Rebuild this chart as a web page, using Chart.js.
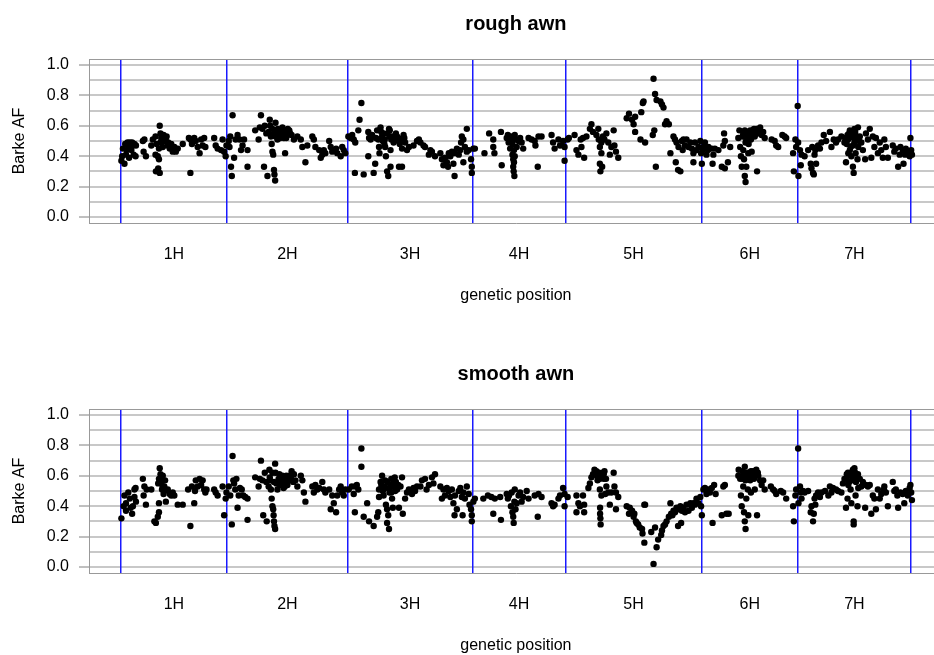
<!DOCTYPE html>
<html>
<head>
<meta charset="utf-8">
<script src="https://cdn.jsdelivr.net/npm/chart.js@4/dist/chart.umd.min.js"></script>
<style>
  html, body { margin: 0; padding: 0; background: #fff; overflow: hidden; width: 934px; height: 655px; }
  .panel { position: absolute; left: 0; width: 934px; height: 310px; overflow: hidden; }
  .panel canvas { display: block; }
</style>
</head>
<body>
<div class="panel" style="top:0px"><canvas id="rough-chart" width="946" height="310"></canvas></div>
<div class="panel" style="top:350px"><canvas id="smooth-chart" width="946" height="310"></canvas></div>
<script>
// chromosomes and their borders on the genetic map (cumulative cM)
const chromNames = ['1H', '2H', '3H', '4H', '5H', '6H', '7H'];
const chromBounds = [0, 139, 296, 459, 580, 758, 883, 1031];

// y axis: grey line every 0.1, label every 0.2
const yGrid = [0, 0.1, 0.2, 0.3, 0.4, 0.5, 0.6, 0.7, 0.8, 0.9, 1.0];
const yLabels = [0, 0.2, 0.4, 0.6, 0.8, 1.0];

// rough awn: marker position (cM) and Barke allele frequency
const roughPos = [
  1, 5, 7, 8, 10, 11, 12, 14, 15, 17, 18, 19.5, 20,
  29, 30, 31, 33, 40, 42, 45.5,
  45.5, 46, 47, 48.5, 49, 50, 51, 51, 52, 54, 55, 56, 58, 59, 61.5, 64, 66, 68, 70, 72, 74.5,
  81, 89, 91, 91, 93, 96, 98, 100.5, 103, 105, 107, 109, 110.5,
  122, 124, 126.5, 131, 133, 135, 137,
  138, 141, 142, 143, 144, 145, 146, 148, 150, 152.5, 155, 157, 159, 161, 165.5, 165.5,
  175.5, 180, 181.5, 183, 185, 187, 191.5, 193, 194.5, 196, 197, 198, 199, 200, 200.6, 201.5, 202, 203, 204.5, 207, 209, 211, 213, 214.5, 215, 217.5, 220, 223, 226, 230.5,
  235, 237, 241, 243.5, 250, 252, 254, 259, 261, 263, 265, 267, 272, 274, 276, 281, 282.5, 287, 289, 291, 293,
  297, 300, 302, 304, 305.5, 306, 310, 311.6, 314, 317, 323, 323, 324, 330, 332, 334.5, 336, 337, 337.6, 339,
  341, 343, 344.5, 345, 346, 347.5, 349, 350, 350.6, 352, 352, 353, 354, 356, 358, 360.5, 363, 365, 367, 367,
  369, 371, 373.5, 376, 382, 386.5, 389, 391, 395, 397, 402, 404, 406, 410, 417, 419, 421, 423, 425.5, 427,
  428, 430, 432, 434, 435.5, 436, 438.5, 441, 443, 444, 445, 447, 447, 449, 451.5, 451.5, 454,
  457, 458, 458, 460, 462, 474.5, 480.6, 486, 486, 487.5, 496, 497, 503.5, 506, 508, 510, 511, 512, 512, 512.6,
  513.5, 514, 515, 516.5, 519, 521, 523, 525, 532, 536, 540, 541, 544, 545, 549, 562, 564, 566, 571, 573, 577, 579, 579,
  583, 584.6, 592, 594.5, 597, 600, 601, 603, 604.5, 607.5, 612, 614, 616, 620.5, 623, 623.6, 625, 625, 625.7, 627,
  627, 628, 629, 631, 633.5, 636, 638, 640, 643, 644, 646, 649, 660, 663, 667, 669, 671, 671, 678, 679,
  681, 682, 684, 694, 695, 696, 697, 698, 699, 704, 706, 708, 710, 712, 715, 717, 721, 723, 724, 725,
  727, 727.6, 730, 732, 733, 734, 736, 738, 740.6, 743, 745, 747, 747, 749, 751, 753.6, 756, 757,
  758, 759, 760, 762, 764, 766, 766.6, 771, 772, 773, 775, 779.6, 784, 786, 787, 788, 788, 792, 795,
  805.6, 807, 808, 809, 810, 811, 812, 813, 814, 814, 815, 816, 816, 818, 818.6, 821, 822, 823, 825, 826,
  827, 829, 830, 831.6, 834, 836, 838, 840, 849, 853, 855, 857.6, 863, 866, 868,
  877, 878, 880, 881, 883, 883.6, 884, 886, 887, 888, 892, 896.6, 900, 901, 902, 903, 904, 905, 906, 907,
  909.6, 912, 914, 917, 920, 925, 927, 930, 933, 935.6, 940, 944, 946, 948, 948.6, 949, 951, 952, 953, 954,
  955, 956, 957, 957, 958.5, 959, 961, 961.6, 962, 964, 966, 968, 971, 972, 974.6, 977, 979, 981, 983, 985,
  987.6, 990, 992, 994, 996, 998, 1000.6, 1007, 1009, 1011, 1014, 1016, 1017, 1020, 1021, 1023, 1024, 1026.6, 1029, 1030, 1031, 1032,
  // markers hidden inside the densest clusters
  2, 3, 6, 9, 13, 16, 50, 52, 53, 57, 60, 62,
  188, 190, 195, 198, 200, 202, 205, 206, 208, 210, 212, 216, 218, 221,
  326, 328, 333, 340, 342, 344, 348, 351, 355, 357, 359, 362, 364, 368, 370,
  505, 507, 509, 511, 513, 514, 513,
  812, 815, 817, 819, 820, 824, 828, 832,
  945, 947, 950, 951, 953, 955, 956, 958, 960, 963
];
const roughAF = [
  .37, .35, .41, .44, .47, .39, .49, .44, .49, .41, .48, .40, .47,
  .50, .43, .51, .40, .47, .51, .41,
  .53, .30, .48, .40, .32, .38, .60, .29, .55, .51, .46, .54, .52, .50, .47, .45, .48, .43, .46, .43, .45,
  .48, .52, .51, .29, .48, .52, .50, .46, .42, .51, .47, .52, .46,
  .52, .47, .45, .44, .51, .43, .40,
  .47, .50, .46, .53, .33, .27, .67, .39, .51, .54, .51, .44, .47, .51, .44, .33,
  .57, .51, .59, .67, .58, .33, .27, .56, .64, .53, .48, .43, .41, .31, .28, .24, .62, .56, .51, .57, .55, .59, .52, .42, .56, .54, .57, .54, .51, .53,
  .51, .46, .36, .47, .53, .51, .46, .44, .39, .41, .44, .42, .50, .46, .43, .45, .42, .40, .46, .44, .42,
  .53, .52, .54, .51, .29, .49, .57, .64, .75, .28, .56, .40, .52, .29, .35, .57, .51, .46, .42, .59,
  .53, .55, .51, .46, .40, .30, .27, .58, .53, .44, .33, .51, .53, .49, .51, .53, .33, .50, .45, .33,
  .54, .49, .44, .46, .47, .50, .51, .49, .47, .46, .41, .44, .43, .40, .42, .38, .34, .39, .36, .33,
  .42, .40, .43, .35, .27, .42, .45, .41, .44, .49, .53, .51, .36, .46, .58, .43, .44,
  .38, .33, .29, .45, .45, .42, .55, .51, .46, .42, .56, .34, .52, .49, .45, .51, .41, .38, .33, .30,
  .27, .54, .51, .46, .50, .52, .49, .45, .52, .51, .50, .47, .33, .53, .53, .54, .49, .45, .51, .47, .50, .37, .46,
  .51, .52, .54, .44, .41, .51, .46, .52, .39, .53, .58, .61, .56, .54, .58, .51, .46, .35, .30, .49,
  .42, .33, .53, .51, .55, .49, .41, .46, .57, .47, .43, .39, .65, .68, .64, .61, .56, .66, .51, .69,
  .75, .76, .49, .54, .91, .57, .81, .33, .77, .76, .74, .72, .61, .63, .61, .42, .53, .51, .36, .49,
  .31, .46, .30, .50, .44, .51, .47, .51, .46, .49, .45, .42, .36, .49, .44, .46, .50, .42,
  .35, .44, .46, .49, .41, .44, .46, .45, .35, .41, .45, .44, .33, .47, .55, .50, .32, .36, .46,
  .52, .57, .46, .40, .33, .53, .44, .38, .57, .27, .23, .51, .33, .54, .42, .57, .51, .43, .55, .58,
  .53, .58, .30, .57, .59, .54, .56, .52, .51, .50, .47, .46, .54, .53, .52,
  .42, .30, .51, .46, .73, .49, .27, .44, .34, .41, .40, .44, .35, .32, .46, .29, .28, .41, .44, .35,
  .47, .45, .49, .54, .50, .56, .46, .51, .49, .51, .53, .49, .36, .54, .51, .42, .57, .46, .40, .53,
  .33, .29, .58, .49, .42, .51, .38, .59, .46, .53, .49, .44, .38, .55, .51, .58, .39, .53, .46, .52,
  .42, .49, .44, .39, .51, .46, .39, .47, .43, .45, .33, .41, .46, .44, .35, .41, .45, .42, .40, .52, .44, .41,
  // markers hidden inside the densest clusters
  .40, .45, .48, .49, .46, .47, .45, .49, .52, .50, .53, .49,
  .60, .55, .60, .58, .55, .53, .58, .54, .52, .56, .55, .52, .58, .55,
  .51, .54, .52, .56, .50, .48, .55, .57, .52, .50, .55, .52, .48, .51, .52,
  .54, .50, .53, .48, .44, .40, .36,
  .55, .49, .56, .48, .53, .57, .55, .55,
  .52, .48, .55, .44, .56, .47, .52, .56, .53, .50
];

// smooth awn: marker position (cM) and Barke allele frequency
const smoothPos = [
  1, 4, 5, 7, 7, 10, 12, 13, 15, 16, 18, 18, 19.5, 20,
  29, 30, 31, 33, 34, 40, 44, 46, 48.5, 50, 50, 50, 51, 52, 53, 54, 55, 56, 57, 58,
  59, 61.5, 64, 66, 68, 70, 74.5, 81, 88, 91, 93, 96, 97, 98, 100.5, 103, 105, 107, 109, 110.5,
  112, 122, 124, 126.5, 133, 135, 137, 138,
  141, 143, 145, 146, 147, 148, 149.5, 151, 152.5, 154, 155.6, 158, 160, 162.5, 165.5, 165.5,
  175.5, 180, 181.5, 183, 186, 190.5, 193, 194, 194.5, 196, 197, 198, 199, 199.5, 200, 200.6, 201.5, 201.5, 202, 203,
  204.5, 206, 208, 211, 212.5, 214, 215, 217.5, 220, 223, 226, 228, 230.5,
  235, 237, 239, 241, 250, 252, 254, 256.5, 259, 263, 265, 267, 272, 274, 276, 278, 281, 282.5, 285, 287,
  289, 291, 293,
  297.5, 301.5, 304, 305.5, 306, 308, 310, 314, 314, 317, 321.5, 324, 330, 334.5, 336, 337, 337, 339, 340.5, 341,
  343, 344.5, 345, 346, 347.5, 347.5, 349, 350, 350.6, 352, 353, 354, 355, 356, 357.5, 359, 360.5, 363, 365, 367,
  368, 371, 373.5, 376, 380, 382, 384, 386.5, 391, 393, 397, 399, 402, 406, 408, 410,
  417, 419, 421, 423, 425.5, 428, 430, 432, 434, 435.5, 436, 438.5, 441, 443, 445, 446, 447, 449, 451.5, 454,
  455, 457,
  458, 458, 460, 462, 473, 479, 483.5, 486, 488, 495, 496, 503.5, 505, 506.5, 509, 510, 511, 512, 512.6, 513.5,
  514, 515, 516.5, 519, 521, 523, 525, 529.6, 532, 540, 544, 545, 549, 562, 564, 566, 571, 573, 577, 579,
  579,
  583, 594.5, 594.5, 597, 599, 603, 604.5, 604.5, 610, 612, 614, 616, 618, 620.5, 623, 625, 625, 625.3, 625.3, 625.7,
  626, 627, 629, 630, 631, 632, 633.5, 636, 638, 640, 643, 644, 646, 649, 646, 660, 664, 663, 667, 669,
  670, 672, 673, 675, 677, 680, 680.6, 683, 683, 684, 692, 695, 697, 699, 701, 705, 706, 708, 710, 712,
  715, 717, 718, 719.6, 721, 723, 725, 727, 727.6, 730, 731, 732, 734, 736, 738, 740.6, 743, 745, 747, 749,
  751, 753.6, 756, 757, 758,
  760, 762, 764, 766.6, 768.5, 771, 772, 774, 776, 784, 786, 788, 790, 793, 805.6, 806, 808, 809, 810, 811,
  812, 813, 814, 814, 815, 816, 816, 818, 818.6, 819, 821, 822, 823, 825, 826, 827, 829, 830, 831.6, 834,
  836, 838, 840, 848, 851, 853, 855, 861, 864, 868,
  877, 878, 880, 881, 883.6, 884, 886, 887, 888, 890, 892, 896.6, 900, 901, 903, 904, 905, 906, 907, 909.6,
  912, 914, 918.6, 923, 925, 927, 929, 933, 935.6, 940, 946, 946, 948, 948.6, 949, 951, 952, 953, 954, 955,
  956, 956, 957, 957.6, 958.5, 959, 961, 961.6, 962, 964, 966, 968, 971, 972, 974.6, 977, 979, 981, 983, 985,
  987.6, 990, 992, 995.5, 996, 998, 1000.6, 1007, 1009, 1011, 1013, 1014, 1017, 1020, 1022, 1024, 1026.6, 1029, 1030, 1031, 1032,
  // markers hidden inside the densest clusters
  49, 51, 53, 55, 57,
  185, 188, 190, 195, 198, 200, 205, 207, 209, 213, 216, 219, 222, 225,
  340, 342, 345, 348, 351, 353, 356, 358, 362,
  621, 622, 624, 628, 630, 633,
  811, 813, 815, 817, 820, 822, 824, 828, 831,
  942, 944, 947, 950, 952, 955, 958, 960
];
const smoothAF = [
  .32, .40, .47, .37, .42, .49, .45, .39, .35, .40, .51, .46, .52, .43,
  .58, .47, .53, .41, .51, .51, .30, .29, .33, .36, .42, .58, .65, .61, .55, .51, .60, .48, .53, .57,
  .43, .51, .48, .47, .49, .47, .41, .41, .51, .27, .53, .42, .50, .57, .53, .58, .54, .57, .51, .49,
  .51, .51, .49, .47, .53, .34, .45, .49,
  .53, .47, .28, .73, .57, .55, .51, .58, .39, .47, .52, .51, .47, .46, .31, .45,
  .59, .53, .58, .70, .34, .30, .53, .64, .59, .51, .45, .40, .38, .34, .30, .27, .25, .68, .62, .55,
  .51, .58, .54, .60, .52, .53, .58, .54, .60, .63, .61, .57, .53,
  .60, .57, .49, .43, .53, .49, .54, .51, .52, .56, .51, .49, .51, .38, .47, .42, .36, .47, .51, .53,
  .49, .47, .51,
  .51, .53, .48, .36, .53, .54, .51, .78, .66, .33, .42, .30, .27, .33, .36, .51, .46, .56, .52, .60,
  .47, .53, .57, .41, .38, .29, .34, .25, .49, .54, .58, .45, .39, .53, .59, .56, .51, .39, .53, .59,
  .35, .45, .49, .51, .48, .52, .50, .53, .53, .57, .58, .51, .54, .59, .55, .61,
  .53, .45, .51, .47, .52, .50, .46, .51, .42, .34, .47, .38, .50, .52, .46, .34, .49, .45, .53, .48,
  .41, .38,
  .34, .30, .43, .45, .45, .47, .46, .35, .45, .46, .31, .48, .45, .47, .40, .49, .36, .33, .29, .43,
  .51, .38, .42, .47, .49, .43, .46, .50, .45, .47, .33, .48, .46, .42, .40, .41, .45, .47, .52, .40,
  .48,
  .46, .47, .36, .42, .40, .47, .41, .36, .52, .55, .59, .61, .64, .63, .61, .58, .51, .39, .35, .32,
  .28, .47, .62, .58, .63, .48, .53, .49, .41, .49, .62, .53, .49, .46, .38, .40, .39, .35, .37, .33,
  .35, .30, .29, .28, .26, .25, .22, .16, .41, .41, .23, .02, .26, .13, .18, .21, .24, .27, .28, .30,
  .33, .42, .35, .34, .37, .36, .39, .27, .38, .40, .29, .37, .39, .36, .41, .37, .42, .39, .42, .41,
  .45, .42, .46, .40, .34,
  .51, .52, .48, .51, .49, .52, .29, .54, .48, .34, .53, .54, .35, .35, .60, .64, .58, .47, .40, .63,
  .53, .36, .66, .30, .25, .60, .45, .51, .34, .62, .57, .49, .60, .63, .58, .51, .64, .34, .60, .57,
  .54, .57, .51, .53, .51, .50, .48, .50, .49, .45,
  .40, .30, .47, .51, .78, .42, .53, .49, .45, .50, .49, .50, .36, .40, .30, .35, .45, .41, .47, .49,
  .46, .49, .50, .47, .53, .49, .52, .51, .50, .49, .58, .39, .45, .62, .54, .60, .51, .42, .57, .64,
  .30, .28, .65, .60, .47, .56, .40, .61, .52, .58, .53, .56, .39, .54, .53, .54, .35, .47, .45, .38,
  .51, .45, .48, .51, .53, .49, .40, .56, .50, .51, .47, .39, .49, .48, .42, .50, .47, .52, .54, .49, .44,
  // markers hidden inside the densest clusters
  .55, .56, .59, .53, .50,
  .57, .62, .56, .57, .62, .56, .55, .61, .57, .56, .60, .57, .59, .56,
  .54, .50, .52, .56, .52, .49, .56, .50, .54,
  .60, .57, .62, .60, .61, .58,
  .58, .61, .57, .62, .59, .63, .60, .61, .62,
  .55, .58, .61, .56, .62, .59, .62, .58
];

// R style axis range: 4% extra on both sides of the map
const mapPad = 0.04 * (chromBounds[chromBounds.length - 1] - chromBounds[0]);
const xMin = chromBounds[0] - mapPad;
const xMax = chromBounds[chromBounds.length - 1] + mapPad;

// chromosome name sits in the middle of each chromosome
const chromMids = chromNames.map((name, i) => (chromBounds[i] + chromBounds[i + 1]) / 2);

const FONT = "'Liberation Sans', Arial, Helvetica, sans-serif";

function isLabelled(v) {
    return yLabels.some(t => Math.abs(t - v) < 1e-9);
}

function drawPanel(canvas, title, pos, af) {
    new Chart(canvas.getContext('2d'), {
        type: 'scatter',
        data: {
            datasets: [{
                data: pos.map((p, i) => ({ x: p, y: af[i] })),
                backgroundColor: '#000',
                borderWidth: 0,
                pointRadius: 3.2,
                pointHoverRadius: 3.2
            }]
        },
        options: {
            responsive: false,
            animation: false,
            events: [],
            layout: { padding: { left: 0, right: 1, top: 0, bottom: 0 } },
            plugins: {
                legend: { display: false },
                tooltip: { enabled: false }
            },
            scales: {
                y: {
                    type: 'linear',
                    position: 'left',
                    min: -0.04,
                    max: 1.04,
                    afterBuildTicks: s => { s.ticks = yGrid.map(v => ({ value: v })) },
                    afterFit: s => { s.width = 89 },
                    grid: {
                        color: '#c8c8c8',
                        lineWidth: 2,
                        drawTicks: true,
                        tickLength: 10,
                        tickWidth: 1,
                        tickColor: ctx => (ctx.tick && isLabelled(ctx.tick.value)) ? '#808080' : 'rgba(0,0,0,0)'
                    },
                    border: { display: true, color: '#999999', width: 1 },
                    ticks: {
                        autoSkip: false,
                        padding: 10,
                        color: '#000',
                        font: { family: FONT, size: 16 },
                        callback: v => isLabelled(v) ? v.toFixed(1) : ''
                    },
                    title: {
                        display: true,
                        text: 'Barke AF',
                        color: '#000',
                        font: { family: FONT, size: 16 },
                        padding: { top: 10, bottom: 0 }
                    }
                },
                // blue chromosome borders, bottom edge of the box
                x: {
                    type: 'linear',
                    position: 'bottom',
                    min: xMin,
                    max: xMax,
                    afterBuildTicks: s => { s.ticks = chromBounds.map(v => ({ value: v })) },
                    afterFit: s => { s.height = 0 },
                    grid: { color: '#1a1aff', lineWidth: 1.5, drawTicks: false },
                    border: { display: true, color: '#999999', width: 1 },
                    ticks: { display: false }
                },
                // chromosome names and axis title
                xLab: {
                    type: 'linear',
                    axis: 'x',
                    position: 'bottom',
                    min: xMin,
                    max: xMax,
                    afterBuildTicks: s => { s.ticks = chromMids.map(v => ({ value: v })) },
                    afterFit: s => { s.height = 87 },
                    grid: { display: false, drawTicks: false },
                    border: { display: false },
                    ticks: {
                        autoSkip: false,
                        maxRotation: 0,
                        padding: 22,
                        color: '#000',
                        font: { family: FONT, size: 16 },
                        callback: (v, i) => chromNames[i]
                    },
                    title: {
                        display: true,
                        text: 'genetic position',
                        color: '#000',
                        font: { family: FONT, size: 16 },
                        padding: { top: 0, bottom: 5 }
                    }
                },
                // top axis only carries the panel title and the top edge of the box
                xTitle: {
                    type: 'linear',
                    axis: 'x',
                    position: 'top',
                    min: xMin,
                    max: xMax,
                    afterBuildTicks: s => { s.ticks = [] },
                    afterFit: s => { s.height = 59 },
                    grid: { display: false, drawTicks: false },
                    border: { display: true, color: '#999999', width: 1 },
                    ticks: { display: false },
                    title: {
                        display: true,
                        text: title,
                        color: '#000',
                        font: { family: FONT, size: 20, weight: 'bold' },
                        padding: { top: 12, bottom: 0 }
                    }
                }
            }
        }
    });
}

drawPanel(document.querySelector('#rough-chart'), 'rough awn', roughPos, roughAF);
drawPanel(document.querySelector('#smooth-chart'), 'smooth awn', smoothPos, smoothAF);
</script>
</body>
</html>
